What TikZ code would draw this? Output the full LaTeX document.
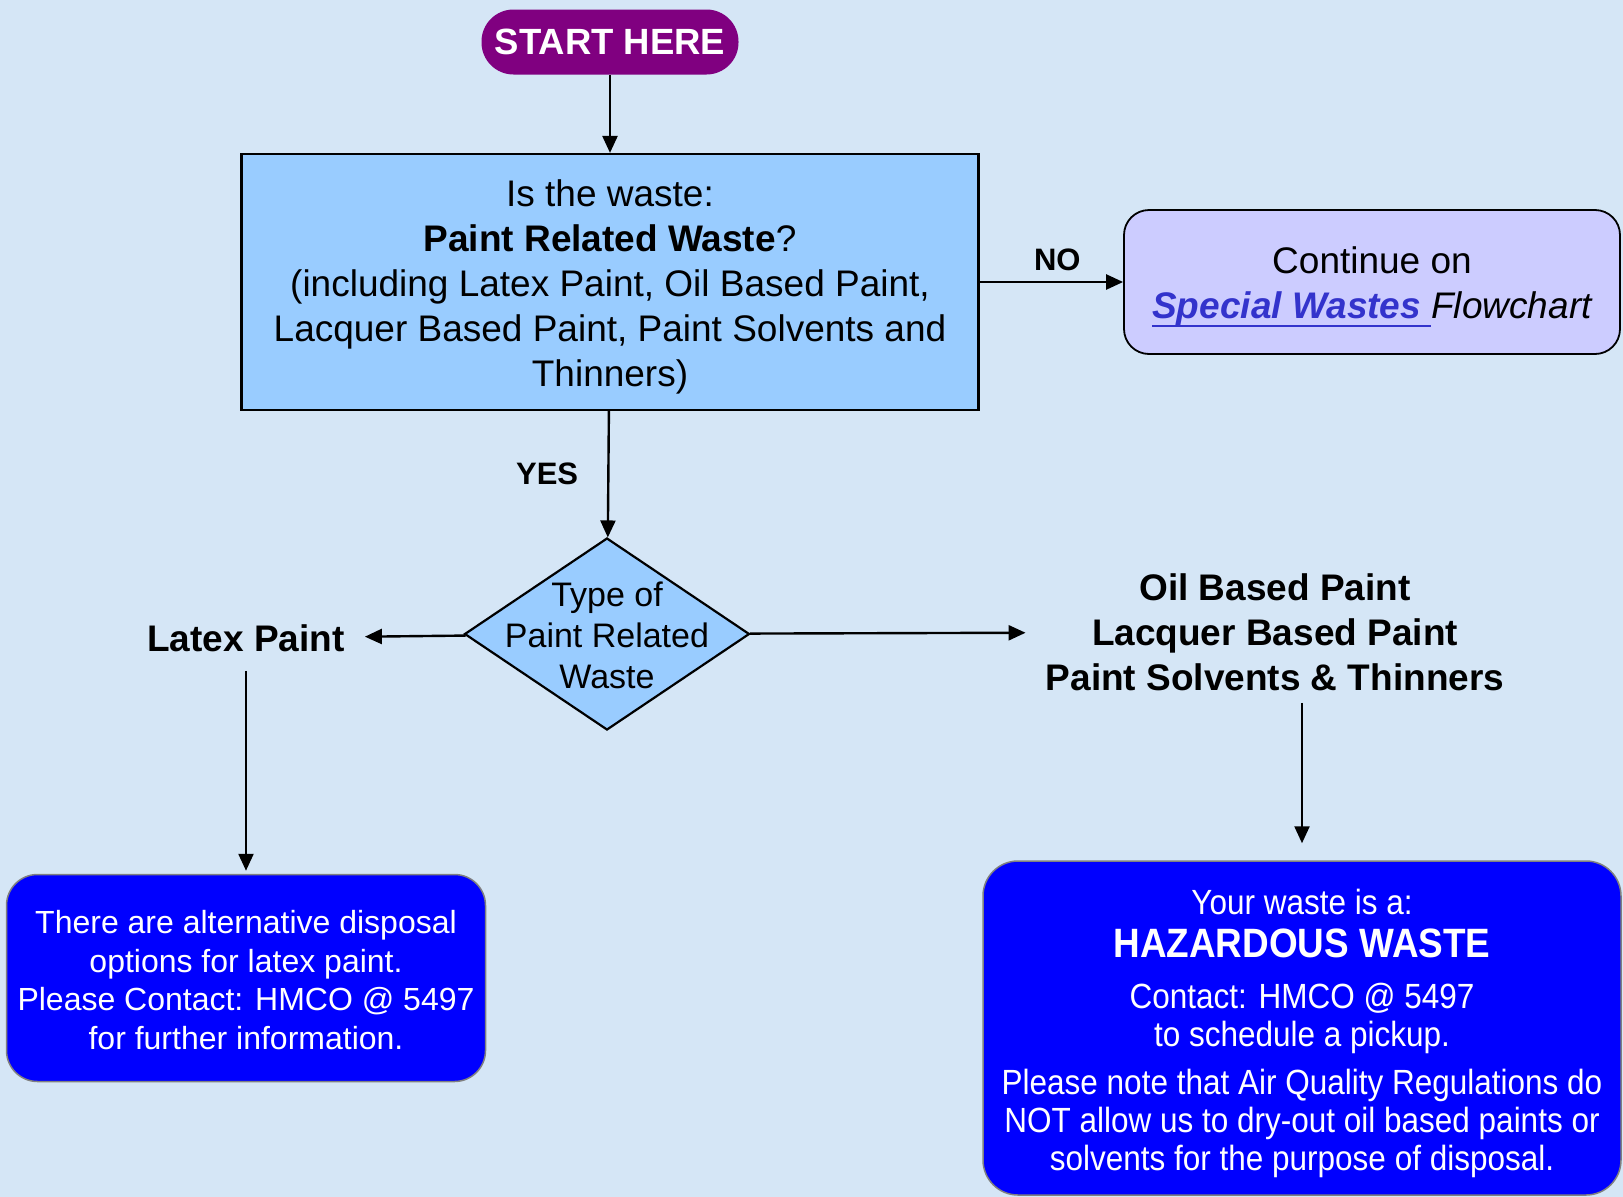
\documentclass[tikz,border=0pt]{standalone}
\usepackage{fontspec}
\setmainfont{Liberation Sans}
\newfontfamily\narrowfont[FakeStretch=0.9]{Liberation Sans}
\usepackage{tikz}
\usetikzlibrary{arrows.meta,%
                shapes.geometric}
\definecolor{bgblue}{HTML}{D5E6F6}
\definecolor{startpurple}{HTML}{800080}
\definecolor{boxblue}{HTML}{99CCFF}
\definecolor{lavender}{HTML}{CCCCFF}
\definecolor{linkblue}{HTML}{3333CC}
\definecolor{darkblue}{HTML}{0000FF}

\begin{document}
\begin{tikzpicture}[x=1pt,y=-1pt,
  startstyle/.style={rectangle, rounded corners=32pt, fill=startpurple, text=white, font=\fontsize{36.5}{44}\selectfont\bfseries, minimum width=257pt, minimum height=65pt, inner sep=0pt},
  boxstyle/.style={rectangle, draw=black, line width=2.2pt, fill=boxblue, align=center, font=\fontsize{37}{45}\selectfont, minimum width=737pt, minimum height=256pt, inner sep=0pt},
  contstyle/.style={rectangle, rounded corners=25pt, draw=black, line width=1.8pt, fill=lavender, align=center, font=\fontsize{37}{45}\selectfont, minimum width=496pt, minimum height=144pt, inner sep=0pt},
  diamondstyle/.style={diamond, draw=black, line width=2.2pt, fill=boxblue, font=\fontsize{34}{41}\selectfont, minimum width=285pt, minimum height=192pt, inner sep=0pt},
  labelstyle/.style={align=center, font=\fontsize{37}{45}\selectfont\bfseries, inner xsep=20pt, inner ysep=12pt},
  smallstyle/.style={inner sep=0pt, font=\fontsize{31}{37}\selectfont\bfseries},
  bluestyle/.style={rectangle, rounded corners=31pt, draw=black!50, line width=1.5pt, fill=darkblue, text=white, align=center, inner sep=0pt},
  arrowstyle/.style={line width=2.4pt, -{Triangle[length=17pt,width=15pt]}}]
    \path[use as bounding box, fill=bgblue] (0,0) rectangle (1623,1197);
    \node (n1) at (610,42)[startstyle]{START HERE};
    \node (n2) at (610,282)[boxstyle]{\rule{0pt}{37pt}Is the waste:\\ \textbf{Paint Related Waste}?\\ (including Latex Paint, Oil Based Paint,\\ Lacquer Based Paint, Paint Solvents and\\ Thinners)};
    \node (n3) at (1372,282)[contstyle]{\rule{0pt}{37pt}Continue on\\ {\color{linkblue}\bfseries\itshape\vtop{\hbox{Special Wastes\ }\kern-2pt\hrule height 2.5pt}}{\itshape Flowchart}};
    \node (n4) at (607,634)[diamondstyle]{\raisebox{-11.5pt}[0pt][0pt]{\makebox[0pt]{\begin{tabular}{@{}c@{}}Type of\\ Paint Related\\ Waste\end{tabular}}}};
    \node (n5) at (246,638)[labelstyle, inner ysep=19pt]{Latex Paint};
    \node (n6) at (1275,632)[labelstyle]{Oil Based Paint\\ Lacquer Based Paint\\ Paint Solvents \& Thinners};
    \node (n7) at (246,978)[bluestyle, minimum width=479pt, minimum height=207pt, font=\fontsize{32}{38.5}\selectfont]{\rule{0pt}{27.5pt}There are alternative disposal\\ options for latex paint.\\ Please Contact: HMCO @ 5497\\ for further information.};
    \node (n8) at (1302,1028)[bluestyle, rounded corners=35pt, minimum width=638pt, minimum height=334pt, font=\narrowfont\fontsize{35}{38}\selectfont]{\rule{0pt}{36pt}Your waste is a:\\[5pt] {\fontsize{41}{38}\selectfont\bfseries HAZARDOUS WASTE}\\[13pt] Contact: HMCO @ 5497\\ to schedule a pickup.\\[10pt] Please note that Air Quality Regulations do\\ NOT allow us to dry-out oil based paints or\\ solvents for the purpose of disposal.};
    \draw[arrowstyle](n1)--(n2);
    \draw[arrowstyle](n2)--node[midway, above=10pt, xshift=6pt, smallstyle]{NO}(n3);
    \draw[arrowstyle](n2)--node[midway, left=29pt, smallstyle]{YES}(n4);
    \draw[arrowstyle](n4)--(n5);
    \draw[arrowstyle](n4)--(n6);
    \draw[arrowstyle](n5.south)--([yshift=3pt]n7.north);
    \draw[arrowstyle](n6.south -| n8.north)--([yshift=17pt]n8.north);
\end{tikzpicture}
\end{document}
